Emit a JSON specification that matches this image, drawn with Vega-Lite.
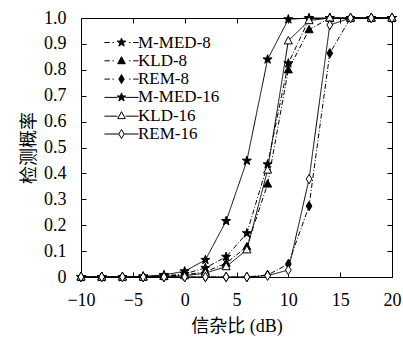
{
  "$schema": "https://vega.github.io/schema/vega-lite/v6.json",
  "width": 311,
  "height": 259,
  "autosize": {"type": "none"},
  "padding": {"left": 81, "top": 18, "right": 11, "bottom": 63},
  "background": "white",
  "config": {
    "view": {"stroke": "black", "strokeWidth": 1},
    "axis": {
      "domain": false,
      "grid": false,
      "ticks": true,
      "tickColor": "black",
      "tickSize": -5,
      "labelFlush": false,
      "labelFont": "'Liberation Serif', 'DejaVu Serif', serif",
      "labelFontSize": 18,
      "labelColor": "black",
      "titleFont": "'Liberation Serif', 'Noto Sans CJK SC'",
      "titleFontSize": 18,
      "titleFontWeight": "normal",
      "titleColor": "black"
    },
    "legend": {
      "symbolStrokeColor": "black",
      "symbolStrokeWidth": 1,
      "symbolOpacity": 1,
      "rowPadding": 0.3,
      "labelFont": "'Liberation Serif', 'DejaVu Serif', serif",
      "labelFontSize": 17,
      "labelColor": "black"
    }
  },
  "datasets": {
    "d": [
      {"series": "M-MED-8", "x": -10, "y": 0}, {"series": "M-MED-8", "x": -8, "y": 0}, {"series": "M-MED-8", "x": -6, "y": 0}, {"series": "M-MED-8", "x": -4, "y": 0.002}, {"series": "M-MED-8", "x": -2, "y": 0.004}, {"series": "M-MED-8", "x": 0, "y": 0.012}, {"series": "M-MED-8", "x": 2, "y": 0.035}, {"series": "M-MED-8", "x": 4, "y": 0.078}, {"series": "M-MED-8", "x": 6, "y": 0.169}, {"series": "M-MED-8", "x": 8, "y": 0.435}, {"series": "M-MED-8", "x": 10, "y": 0.825}, {"series": "M-MED-8", "x": 12, "y": 0.995}, {"series": "M-MED-8", "x": 14, "y": 1}, {"series": "M-MED-8", "x": 16, "y": 1}, {"series": "M-MED-8", "x": 18, "y": 1}, {"series": "M-MED-8", "x": 20, "y": 1},
      {"series": "KLD-8", "x": -10, "y": 0}, {"series": "KLD-8", "x": -8, "y": 0}, {"series": "KLD-8", "x": -6, "y": 0}, {"series": "KLD-8", "x": -4, "y": 0}, {"series": "KLD-8", "x": -2, "y": 0.003}, {"series": "KLD-8", "x": 0, "y": 0.008}, {"series": "KLD-8", "x": 2, "y": 0.02}, {"series": "KLD-8", "x": 4, "y": 0.053}, {"series": "KLD-8", "x": 6, "y": 0.117}, {"series": "KLD-8", "x": 8, "y": 0.359}, {"series": "KLD-8", "x": 10, "y": 0.8}, {"series": "KLD-8", "x": 12, "y": 0.955}, {"series": "KLD-8", "x": 14, "y": 1}, {"series": "KLD-8", "x": 16, "y": 1}, {"series": "KLD-8", "x": 18, "y": 1}, {"series": "KLD-8", "x": 20, "y": 1},
      {"series": "REM-8", "x": -10, "y": 0}, {"series": "REM-8", "x": -8, "y": 0}, {"series": "REM-8", "x": -6, "y": 0}, {"series": "REM-8", "x": -4, "y": 0}, {"series": "REM-8", "x": -2, "y": 0}, {"series": "REM-8", "x": 0, "y": 0}, {"series": "REM-8", "x": 2, "y": 0}, {"series": "REM-8", "x": 4, "y": 0}, {"series": "REM-8", "x": 6, "y": 0}, {"series": "REM-8", "x": 8, "y": 0.008}, {"series": "REM-8", "x": 10, "y": 0.05}, {"series": "REM-8", "x": 12, "y": 0.274}, {"series": "REM-8", "x": 14, "y": 0.864}, {"series": "REM-8", "x": 16, "y": 1}, {"series": "REM-8", "x": 18, "y": 1}, {"series": "REM-8", "x": 20, "y": 1},
      {"series": "M-MED-16", "x": -10, "y": 0}, {"series": "M-MED-16", "x": -8, "y": 0}, {"series": "M-MED-16", "x": -6, "y": 0}, {"series": "M-MED-16", "x": -4, "y": 0.002}, {"series": "M-MED-16", "x": -2, "y": 0.008}, {"series": "M-MED-16", "x": 0, "y": 0.022}, {"series": "M-MED-16", "x": 2, "y": 0.066}, {"series": "M-MED-16", "x": 4, "y": 0.216}, {"series": "M-MED-16", "x": 6, "y": 0.449}, {"series": "M-MED-16", "x": 8, "y": 0.84}, {"series": "M-MED-16", "x": 10, "y": 0.995}, {"series": "M-MED-16", "x": 12, "y": 1}, {"series": "M-MED-16", "x": 14, "y": 1}, {"series": "M-MED-16", "x": 16, "y": 1}, {"series": "M-MED-16", "x": 18, "y": 1}, {"series": "M-MED-16", "x": 20, "y": 1},
      {"series": "KLD-16", "x": -10, "y": 0}, {"series": "KLD-16", "x": -8, "y": 0}, {"series": "KLD-16", "x": -6, "y": 0}, {"series": "KLD-16", "x": -4, "y": 0}, {"series": "KLD-16", "x": -2, "y": 0.002}, {"series": "KLD-16", "x": 0, "y": 0.005}, {"series": "KLD-16", "x": 2, "y": 0.015}, {"series": "KLD-16", "x": 4, "y": 0.04}, {"series": "KLD-16", "x": 6, "y": 0.105}, {"series": "KLD-16", "x": 8, "y": 0.413}, {"series": "KLD-16", "x": 10, "y": 0.912}, {"series": "KLD-16", "x": 12, "y": 0.99}, {"series": "KLD-16", "x": 14, "y": 1}, {"series": "KLD-16", "x": 16, "y": 1}, {"series": "KLD-16", "x": 18, "y": 1}, {"series": "KLD-16", "x": 20, "y": 1},
      {"series": "REM-16", "x": -10, "y": 0}, {"series": "REM-16", "x": -8, "y": 0}, {"series": "REM-16", "x": -6, "y": 0}, {"series": "REM-16", "x": -4, "y": 0}, {"series": "REM-16", "x": -2, "y": 0}, {"series": "REM-16", "x": 0, "y": 0}, {"series": "REM-16", "x": 2, "y": 0}, {"series": "REM-16", "x": 4, "y": 0}, {"series": "REM-16", "x": 6, "y": 0}, {"series": "REM-16", "x": 8, "y": 0.005}, {"series": "REM-16", "x": 10, "y": 0.027}, {"series": "REM-16", "x": 12, "y": 0.378}, {"series": "REM-16", "x": 14, "y": 0.973}, {"series": "REM-16", "x": 16, "y": 1}, {"series": "REM-16", "x": 18, "y": 1}, {"series": "REM-16", "x": 20, "y": 1}
    ]
  },
  "data": {"name": "d"},
  "layer": [
    {
      "mark": {"type": "line", "color": "black", "strokeWidth": 1, "clip": false},
      "encoding": {
        "x": {"field": "x", "type": "quantitative", "scale": {"domain": [-10, 20], "nice": false, "zero": false},
              "axis": {"orient": "bottom", "values": [-10, -5, 0, 5, 10, 15, 20], "title": "信杂比 (dB)", "labelPadding": 19, "titlePadding": 8}},
        "y": {"field": "y", "type": "quantitative", "scale": {"domain": [0, 1], "nice": false},
              "axis": {"orient": "left", "values": [0, 0.1, 0.2, 0.3, 0.4, 0.5, 0.6, 0.7, 0.8, 0.9, 1.0], "labelExpr": "datum.value == 0 ? '0' : format(datum.value, '.1f')", "title": "检测概率", "labelPadding": 20, "titlePadding": 5}},
        "strokeDash": {"field": "series", "type": "nominal",
              "scale": {"domain": ["M-MED-8", "KLD-8", "REM-8", "M-MED-16", "KLD-16", "REM-16"], "range": [[5, 2, 1, 2], [5, 2, 1, 2], [5, 2, 1, 2], [1, 0], [1, 0], [1, 0]]}, "legend": null},
        "detail": {"field": "series"}
      }
    },
    {
      "mark": {"type": "point", "filled": true, "stroke": "black", "strokeWidth": 1, "opacity": 1, "size": 90, "clip": false},
      "encoding": {
        "x": {"field": "x", "type": "quantitative", "axis": {"orient": "top", "values": [-10, -5, 0, 5, 10, 15, 20], "labels": false, "title": null}},
        "y": {"field": "y", "type": "quantitative", "axis": {"orient": "right", "values": [0, 0.1, 0.2, 0.3, 0.4, 0.5, 0.6, 0.7, 0.8, 0.9, 1.0], "labels": false, "title": null}},
        "shape": {"field": "series", "type": "nominal", "legend": null,
              "scale": {"domain": ["M-MED-8", "KLD-8", "REM-8", "M-MED-16", "KLD-16", "REM-16"],
                        "range": [
                          "M0,-1L0.235,-0.324L0.951,-0.309L0.38,0.124L0.588,0.809L0,0.4L-0.588,0.809L-0.38,0.124L-0.951,-0.309L-0.235,-0.324Z",
                          "M0,-0.9L0.85,0.65L-0.85,0.65Z",
                          "M0,-1L0.6,0L0,1L-0.6,0Z",
                          "M0,-1L0.235,-0.324L0.951,-0.309L0.38,0.124L0.588,0.809L0,0.4L-0.588,0.809L-0.38,0.124L-0.951,-0.309L-0.235,-0.324Z",
                          "M0,-0.9L0.85,0.65L-0.85,0.65Z",
                          "M0,-1L0.6,0L0,1L-0.6,0Z"]}},
        "fill": {"field": "series", "type": "nominal", "legend": null,
              "scale": {"domain": ["M-MED-8", "KLD-8", "REM-8", "M-MED-16", "KLD-16", "REM-16"], "range": ["black", "black", "black", "black", "white", "white"]}}
      }
    },
    {
      "mark": {"type": "point", "filled": false, "stroke": "black", "strokeWidth": 1, "opacity": 0, "size": 81},
      "encoding": {
        "x": {"field": "x", "type": "quantitative", "axis": null},
        "y": {"field": "y", "type": "quantitative", "axis": null},
        "shape": {"field": "series", "type": "nominal",
              "scale": {"domain": ["M-MED-8", "KLD-8", "REM-8", "M-MED-16", "KLD-16", "REM-16"],
                        "range": [
                          "M-3.8,0L-2.6,0M-2,0L-1.7,0M1.7,0L2,0M2.6,0L3.8,0M0,-1L0.235,-0.324L0.951,-0.309L0.38,0.124L0.588,0.809L0,0.4L-0.588,0.809L-0.38,0.124L-0.951,-0.309L-0.235,-0.324Z",
                          "M-3.8,0L-2.6,0M-2,0L-1.7,0M1.7,0L2,0M2.6,0L3.8,0M0,-0.9L0.85,0.65L-0.85,0.65Z",
                          "M-3.8,0L-2.6,0M-2,0L-1.7,0M1.7,0L2,0M2.6,0L3.8,0M0,-1L0.6,0L0,1L-0.6,0Z",
                          "M-3.8,0L-0.9,0M0.9,0L3.8,0M0,-1L0.235,-0.324L0.951,-0.309L0.38,0.124L0.588,0.809L0,0.4L-0.588,0.809L-0.38,0.124L-0.951,-0.309L-0.235,-0.324Z",
                          "M-3.8,0.1L-0.9,0.1M0.9,0.1L3.8,0.1M0,-0.9L0.85,0.65L-0.85,0.65Z",
                          "M-3.8,0L-0.6,0M0.6,0L3.8,0M0,-1L0.6,0L0,1L-0.6,0Z"]},
              "legend": {"orient": "none", "legendX": 32, "legendY": 16, "title": null, "padding": 0,
                         "symbolSize": 81, "symbolOpacity": 1, "symbolStrokeColor": "black", "symbolStrokeWidth": 1,
                         "labelOffset": 8, "rowPadding": 0.3, "labelFontSize": 17,
                         "encode": {"symbols": {"update": {"stroke": {"value": "black"}, "strokeWidth": {"value": 1}, "opacity": {"value": 1}}}}}},
        "fill": {"field": "series", "type": "nominal",
              "scale": {"domain": ["M-MED-8", "KLD-8", "REM-8", "M-MED-16", "KLD-16", "REM-16"], "range": ["black", "black", "black", "black", "white", "white"]},
              "legend": {"orient": "none", "legendX": 32, "legendY": 16, "title": null, "padding": 0,
                         "symbolSize": 81, "symbolOpacity": 1, "symbolStrokeColor": "black", "symbolStrokeWidth": 1,
                         "labelOffset": 8, "rowPadding": 0.3, "labelFontSize": 17,
                         "encode": {"symbols": {"update": {"stroke": {"value": "black"}, "strokeWidth": {"value": 1}, "opacity": {"value": 1}}}}}}
      }
    }
  ],
  "resolve": {"axis": {"x": "independent", "y": "independent"}, "scale": {"shape": "independent", "fill": "independent"}}
}
